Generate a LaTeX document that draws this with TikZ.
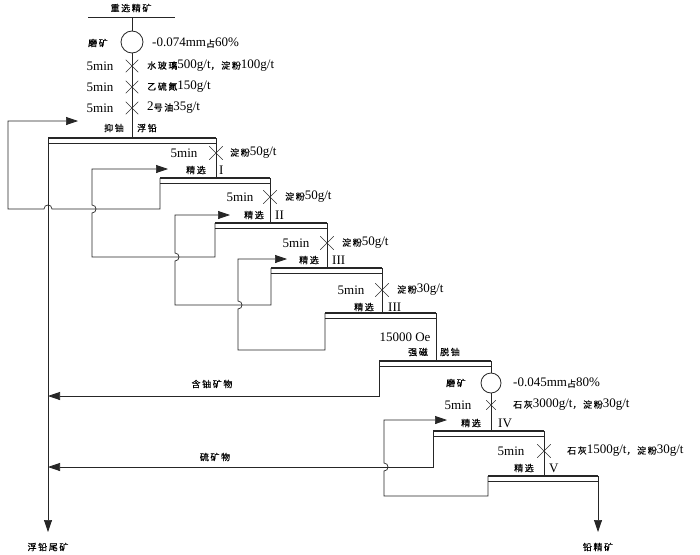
\documentclass[tikz,border=0pt]{standalone}
\usepackage{fontspec}
\setmainfont{Liberation Serif}
\newfontfamily\cjk[LetterSpace=18,FakeBold=0.5]{Noto Sans CJK SC}
\usetikzlibrary{arrows.meta,shapes.misc}
\newcommand\zh[1]{{\cjk\fontsize{9}{10}\selectfont #1}}
\newcommand\flotcell[4]{%
  \coordinate (#1l) at (#2,#4);
  \coordinate (#1r) at (#3,#4);
  \draw[line] ([yshift=-5.5pt]#1l) -- ([yshift=-5.5pt]#1r);
  \draw[celltop] (#1l) -- (#1r);
}
\begin{document}
\begin{tikzpicture}[x=1pt,y=-1pt,
  line/.style={line width=0.7pt, draw=black!85},
  celltop/.style={line width=1.7pt, draw=black!85},
  arr/.style={line, -{Triangle[length=12pt,width=8pt]}},
  xmark/.style={draw=black!80, line width=0.55pt, cross out, minimum size=13pt, inner sep=0pt},
  mill/.style={draw=black!85, line width=0.8pt, circle, minimum size=22pt, inner sep=0pt, fill=white},
  lab/.style={inner sep=0pt, font=\fontsize{13}{15}\selectfont, text=black},
  labw/.style={lab, anchor=west},
]
\useasboundingbox[fill=white] (0,0) rectangle (700,554);

% ---------- feed ----------
\node[lab] (tfeed) at (131,8) {\zh{重选精矿}};
\coordinate (feedL) at (88,17);
\coordinate (feedR) at (175,17);
\coordinate (feedC) at (132,17);
\draw[line] (feedL) -- (feedR);

% ---------- cells ----------
\flotcell{R}{48}{216}{138}
\flotcell{A}{160}{270}{178}
\flotcell{B}{215}{327}{223}
\flotcell{C}{271}{382}{268}
\flotcell{D}{325}{436}{313}
\flotcell{M}{379}{491}{361}
\flotcell{E}{433}{544}{431}
\flotcell{F}{488}{598}{476}
\coordinate (Rfeed) at (132,138);

% ---------- main feed line ----------
\node[mill] (g1) at (132,42) {};
\draw[line] (feedC) -- (g1.north);
\draw[line] (g1.south) -- (Rfeed);
\node[xmark,minimum size=12pt] (x1) at (132,66) {};
\node[xmark,minimum size=12pt] (x2) at (132,87) {};
\node[xmark,minimum size=12pt] (x3) at (132,108) {};
\node[lab] (m1) at (98,43) {\zh{磨矿}};
\node[labw] (m1s) at (152,43) {-0.074mm\zh{占}60\%};
\node[lab] (t1) at (100,66) {5min};
\node[lab] (t2) at (100,87) {5min};
\node[lab] (t3) at (100,108) {5min};
\node[labw] (r1) at (147,66) {\zh{水玻璃}500g/t\zh{，淀粉}100g/t};
\node[labw] (r2) at (147,87) {\zh{乙硫氮}150g/t};
\node[labw] (r3) at (147,108) {2\zh{号油}35g/t};
\node[lab] (yu) at (114,128) {\zh{抑铀}};
\node[lab] (fq) at (147,128) {\zh{浮铅}};

% ---------- concentrate lines ----------
\draw[line] (Rr) -- (Rr |- Al);
\node[xmark] (xa) at (216,153) {};
\node[lab] (ta) at (184,153) {5min};
\node[labw] (ra) at (230,153) {\zh{淀粉}50g/t};
\node[lab] (ja) at (196,170) {\zh{精选}};
\node[labw] (na) at (219,170) {I};

\draw[line] (Ar) -- (Ar |- Bl);
\node[xmark] (xb) at (270,197) {};
\node[lab] (tb) at (240,197) {5min};
\node[labw] (rb) at (285,197) {\zh{淀粉}50g/t};
\node[lab] (jb) at (254,215) {\zh{精选}};
\node[labw] (nb) at (275,215) {II};

\draw[line] (Br) -- (Br |- Cl);
\node[xmark] (xc) at (327,243) {};
\node[lab] (tc) at (296,243) {5min};
\node[labw] (rc) at (342,243) {\zh{淀粉}50g/t};
\node[lab] (jc) at (309,260) {\zh{精选}};
\node[labw] (nc) at (332,260) {III};

\draw[line] (Cr) -- (Cr |- Dl);
\node[xmark] (xd) at (382,290) {};
\node[lab] (td) at (351,290) {5min};
\node[labw] (rd) at (397,290) {\zh{淀粉}30g/t};
\node[lab] (jd) at (364,307) {\zh{精选}};
\node[labw] (nd) at (388,307) {III};

\draw[line] (Dr) -- (Dr |- Ml);
\node[lab] (oe) at (405,337) {15000 Oe};
\node[lab] (qc) at (418,352) {\zh{强磁}};
\node[lab] (ty) at (450,352) {\zh{脱铀}};

\node[mill,minimum size=20pt] (g2) at (491,383) {};
\draw[line] (Mr) -- (g2.north);
\draw[line] (g2.south) -- (g2.south |- El);
\node[xmark,minimum size=9pt] (xm) at (491,405) {};
\node[lab] (m2) at (456,383) {\zh{磨矿}};
\node[labw] (m2s) at (513,383) {-0.045mm\zh{占}80\%};
\node[lab] (tm) at (458,405) {5min};
\node[labw] (rm) at (513,405) {\zh{石灰}3000g/t\zh{，淀粉}30g/t};
\node[lab] (je) at (471,423) {\zh{精选}};
\node[labw] (ne) at (498,423) {IV};

\draw[line] (Er) -- (Er |- Fl);
\node[xmark] (xe) at (544,451) {};
\node[lab] (te) at (511,451) {5min};
\node[labw] (re) at (567,451) {\zh{石灰}1500g/t\zh{，淀粉}30g/t};
\node[lab] (jf) at (524,468) {\zh{精选}};
\node[labw] (nf) at (549,468) {V};

% ---------- products ----------
\coordinate (tailEnd) at (48,532);
\coordinate (concEnd) at (598,532);
\draw[arr] (Rl) -- (tailEnd);
\draw[arr] (Fr) -- (concEnd);
\node[lab] (tail) at (48,547) {\zh{浮铅尾矿}};
\node[lab] (conc) at (598,547) {\zh{铅精矿}};

% ---------- middling returns ----------
\coordinate (fa) at (78,121);
\draw[arr] (Al) -- (160,209) -- (52,209)
  .. controls (52,203.7) and (44,203.7) .. (44,209)
  -- (8,209) -- (8,121) -- (fa);

\coordinate (fb) at (168,169);
\draw[arr] (Bl) -- (215,257) -- (92,257) -- (92,213)
  .. controls (97.3,213) and (97.3,205) .. (92,205)
  -- (92,169) -- (fb);

\coordinate (fc) at (230,215);
\draw[arr] (Cl) -- (271,305) -- (175,305) -- (175,261)
  .. controls (180.3,261) and (180.3,253) .. (175,253)
  -- (175,215) -- (fc);

\coordinate (fd) at (287,259);
\draw[arr] (Dl) -- (325,350) -- (238,350) -- (238,309)
  .. controls (243.3,309) and (243.3,301) .. (238,301)
  -- (238,259) -- (fd);

\coordinate (fu) at (48,396);
\draw[arr] (Ml) -- (379,396) -- (fu);
\node[lab] (uran) at (212,384) {\zh{含铀矿物}};

\coordinate (fs) at (48,467);
\draw[arr] (El) -- (433,467) -- (fs);
\node[lab] (sulf) at (215,457) {\zh{硫矿物}};

\coordinate (ff) at (447,420);
\draw[arr] (Fl) -- (488,496) -- (384,496) -- (384,471)
  .. controls (389.3,471) and (389.3,463) .. (384,463)
  -- (384,420) -- (ff);
\end{tikzpicture}
\end{document}
